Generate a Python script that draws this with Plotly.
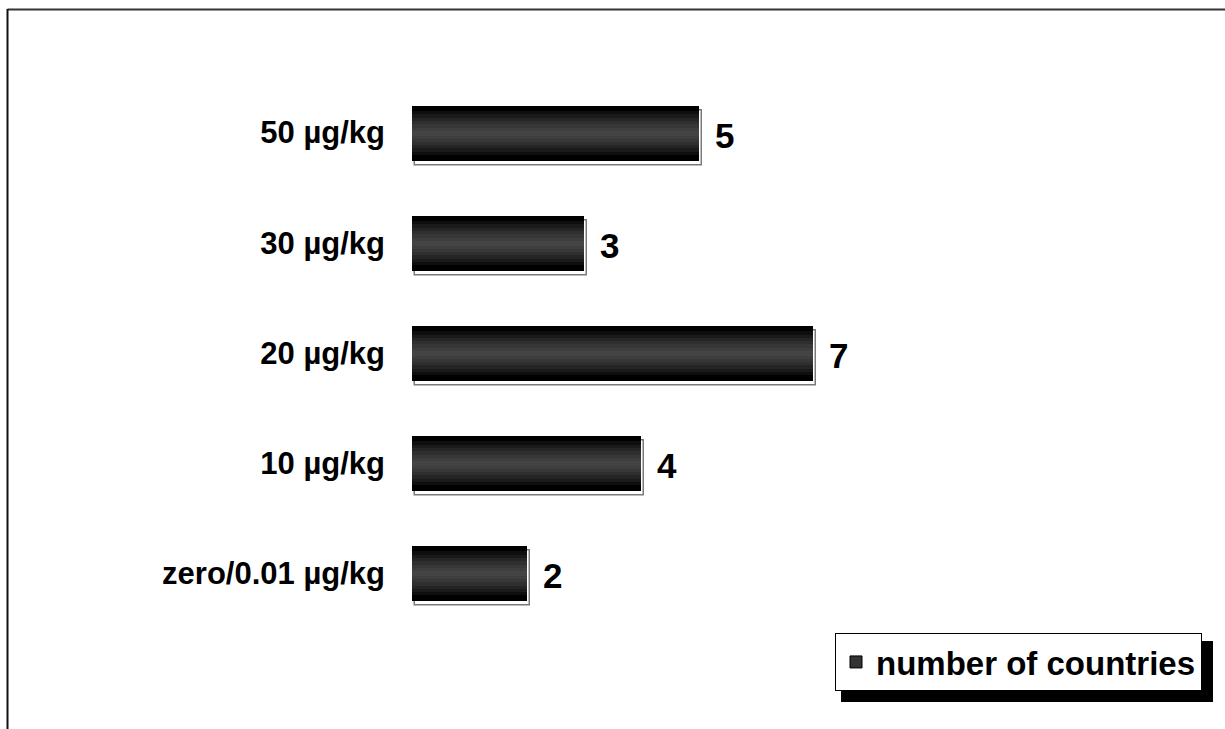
import plotly.graph_objects as go

# ---- data (bottom to top) ----
categories = ["zero/0.01 µg/kg", "10 µg/kg", "20 µg/kg", "30 µg/kg", "50 µg/kg"]
countries = [2, 4, 7, 3, 5]
series_name = "number of countries"

W, H = 1225, 729
positions = list(range(len(categories)))

# plot geometry (pixels)
x0_px, px_per_unit, x_max = 412, 57.3, 12
y_bottom_px, y_top_px = 628, 77.5
bar_w = 0.5
px_per_cat = (y_bottom_px - y_top_px) / len(categories)

fig = go.Figure()

# shadow bars (white, grey outline, shifted right/down)
sh_dx = 3 / px_per_unit
sh_dy = 5 / px_per_cat
fig.add_trace(go.Bar(
    y=positions, x=countries, orientation="h", base=sh_dx,
    width=bar_w, offset=-bar_w / 2 - sh_dy,
    marker=dict(color="white", line=dict(color="#7a7a7a", width=1.5)),
    showlegend=False, hoverinfo="skip",
))

# gradient layers (outer black -> inner grey)
layers = [(1.0, "#000000"), (0.80, "#0e0e0e"), (0.68, "#1a1a1a"), (0.56, "#252525"),
          (0.44, "#2f2f2f"), (0.32, "#373737"), (0.20, "#3e3e3e"), (0.09, "#444444")]
for f, c in layers:
    fig.add_trace(go.Bar(
        y=positions, x=countries, orientation="h",
        width=bar_w * f,
        marker=dict(color=c, line=dict(width=0)),
        showlegend=False, hoverinfo="skip",
    ))

# legend entry
fig.add_trace(go.Bar(
    y=[None], x=[None], orientation="h", name=f"<b>{series_name}</b>",
    marker=dict(color="#333333", line=dict(color="#000000", width=1)),
    showlegend=True,
))

# value labels
for p, v in zip(positions, countries):
    fig.add_annotation(x=v, y=p, text=f"<b>{v}</b>", showarrow=False,
                       xanchor="left", yanchor="middle", xshift=14, yshift=-3,
                       font=dict(family="Arial, Liberation Sans", size=35, color="black"))

# frame lines (top and left)
fig.add_shape(type="line", xref="paper", yref="paper", x0=7.5 / W, x1=1, y0=1 - 9.5 / H, y1=1 - 9.5 / H,
              line=dict(color="#333333", width=2))
fig.add_shape(type="line", xref="paper", yref="paper", x0=7.5 / W, x1=7.5 / W, y0=0, y1=1 - 9 / H,
              line=dict(color="#111111", width=2))

# legend shadow
leg_left, leg_top, leg_right, leg_bottom = 835, 633, 1206, 693
fig.add_shape(type="rect", xref="paper", yref="paper",
              x0=(leg_left + 6) / W, x1=(leg_right + 7) / W,
              y0=1 - (leg_bottom + 9) / H, y1=1 - (leg_top + 8) / H,
              fillcolor="black", line=dict(width=0), layer="above")

fig.update_layout(
    width=W, height=H,
    margin=dict(l=0, r=0, t=0, b=0),
    paper_bgcolor="white", plot_bgcolor="white",
    barmode="overlay", bargap=0,
    font=dict(family="Arial, Liberation Sans", color="black"),
    xaxis=dict(domain=[x0_px / W, (x0_px + px_per_unit * x_max) / W], range=[0, x_max],
               showgrid=False, zeroline=False, showticklabels=False, showline=False, ticks="",
               fixedrange=True),
    yaxis=dict(domain=[1 - y_bottom_px / H, 1 - y_top_px / H], range=[-0.5, len(categories) - 0.5],
               tickmode="array", tickvals=positions, ticktext=[f"<b>{c}</b>" for c in categories],
               tickfont=dict(family="Arial, Liberation Sans", size=31, color="black"),
               ticks="", ticklabelstandoff=26,
               showgrid=False, zeroline=False, showline=False, fixedrange=True),
    legend=dict(x=leg_left / W, y=1 - leg_top / H, xanchor="left", yanchor="top",
                bgcolor="white", bordercolor="black", borderwidth=1,
                font=dict(family="Arial, Liberation Sans", size=33, color="black"),
                itemclick=False, itemdoubleclick=False),
    showlegend=True,
)

fig.write_html("out.html", config={"displayModeBar": False},
               post_script="document.body.style.margin='0';document.body.style.overflow='hidden';")
